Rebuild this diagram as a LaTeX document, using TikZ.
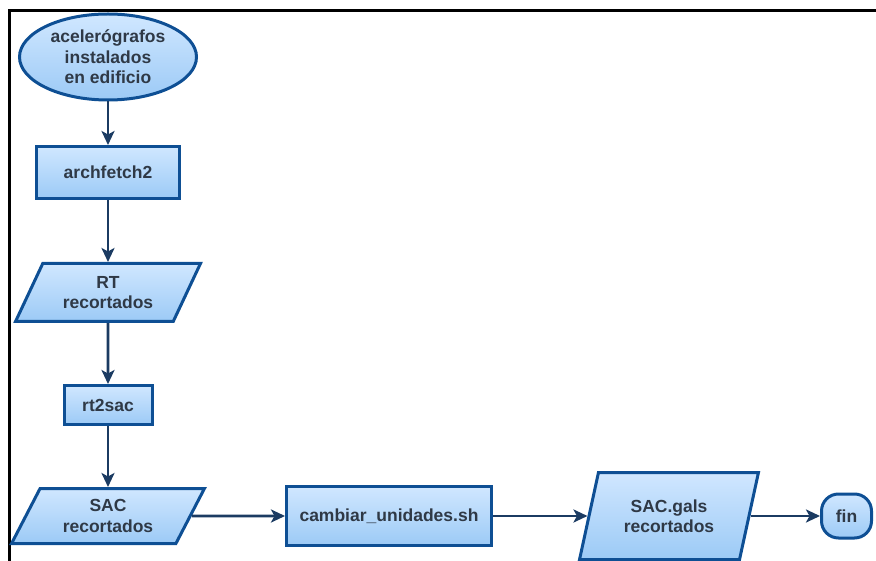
\documentclass[tikz,border=0pt]{standalone}
\usepackage{fontspec}
\setmainfont{Liberation Sans}
\usetikzlibrary{shapes.geometric,arrows.meta}
\definecolor{EdgeBlue}{HTML}{0E4F94}
\definecolor{FillTop}{HTML}{D0E7FF}
\definecolor{FillBottom}{HTML}{9CCAF6}
\definecolor{ArrowNavy}{HTML}{1B3B62}
\definecolor{TextGray}{HTML}{2F3946}
\tikzset{
  blockbase/.style={draw=EdgeBlue, line width=3pt, top color=FillTop,
    bottom color=FillBottom, text=TextGray, align=center, inner sep=0pt,
    font=\fontsize{17.5}{20.5}\selectfont\bfseries},
  procbox/.style={blockbase, rectangle},
  databox/.style={blockbase, trapezium, trapezium left angle=60,
    trapezium right angle=120, trapezium stretches=true},
  termbox/.style={blockbase, ellipse},
  endbox/.style={blockbase, rectangle, rounded corners=17pt},
  flow/.style={draw=ArrowNavy, line width=2.8pt,
    -{Stealth[length=14pt,width=13pt,inset=3.5pt]}}
}
\begin{document}
\begin{tikzpicture}[x=1pt,y=-1pt]
  \useasboundingbox (0,0) rectangle (876,561);
  % marco
  \draw[line width=3pt] (9,561) -- (9,11) -- (876,11);

  % columna izquierda
  \node[termbox, minimum width=177pt, minimum height=86pt] (sensores) at (108,57)
    {acelerógrafos\\instalados\\en edificio};
  \node[procbox, minimum width=143pt, minimum height=52pt] (archfetch) at (108,172.5)
    {archfetch2};
  \node[databox, minimum width=185pt, minimum height=58pt] (rtrec) at (108,292.5)
    {RT\\recortados};
  \node[procbox, minimum width=88pt, minimum height=39pt] (rtsac) at (108,405)
    {rt2sac};
  \node[databox, minimum width=193pt, minimum height=55pt] (sacrec) at (108,516)
    {SAC\\recortados};

  % fila inferior
  \node[procbox, minimum width=205pt, minimum height=59pt] (unidades) at (389,516)
    {cambiar\_unidades.sh};
  \node[databox, trapezium left angle=70, trapezium right angle=110,
    minimum width=179pt, minimum height=87pt] (galsrec) at (669,516)
    {SAC.gals\\recortados};
  \node[endbox, minimum width=50pt, minimum height=44pt] (fin) at (846.5,516)
    {fin};

  \draw[flow] (sensores) -- (archfetch);
  \draw[flow] (archfetch) -- (rtrec);
  \draw[flow] (rtrec) -- (rtsac);
  \draw[flow] (rtsac) -- (sacrec);
  \draw[flow] (sacrec) -- (unidades);
  \draw[flow] (unidades) -- (galsrec);
  \draw[flow] (galsrec) -- (fin);
\end{tikzpicture}
\end{document}
